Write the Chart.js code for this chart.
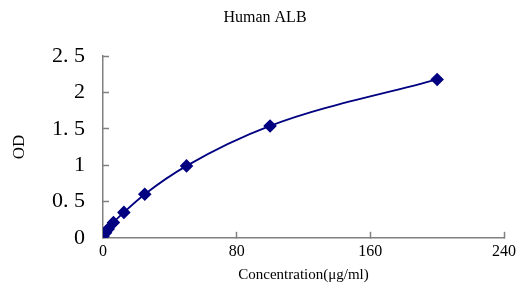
<!DOCTYPE html>
<html>
<head>
<meta charset="utf-8">
<script src="https://cdn.jsdelivr.net/npm/chart.js@4"></script>
<style>
  body { margin: 0; background: #fff; }
  #wrap { width: 519px; height: 288px; }
</style>
</head>
<body>
<div id="wrap"><canvas id="albChart"></canvas></div>
<script>
const concentrations = [0, 1.5625, 3.125, 6.25, 12.5, 25, 50, 100, 200];
const odValues = [0.02, 0.07, 0.12, 0.21, 0.35, 0.6, 0.99, 1.54, 2.18];
const xTicks = [0, 80, 160, 240];
const yTicks = [0, 0.5, 1, 1.5, 2, 2.5];

const serif = '"Liberation Serif", "DejaVu Serif", serif';

const ctx = document.getElementById('albChart').getContext('2d');
new Chart(ctx, {
    type: 'scatter',
    data: {
        datasets: [{
            label: 'Human ALB',
            data: concentrations.map((c, i) => ({ x: c, y: odValues[i] })),
            showLine: true,
            borderColor: '#000080',
            backgroundColor: '#000080',
            borderWidth: 1.8,
            pointStyle: 'rectRot',
            pointRadius: 5.5,
            pointHoverRadius: 5.5,
            cubicInterpolationMode: 'monotone'
        }]
    },
    options: {
        responsive: true,
        maintainAspectRatio: false,
        animation: false,
        layout: { padding: { left: 11, right: 0, top: 8, bottom: 4 } },
        scales: {
            x: {
                type: 'linear',
                min: 0,
                max: 240,
                afterBuildTicks: axis => { axis.ticks = xTicks.map(v => ({ value: v })); },
                // keep "240" close to the edge like the original
                afterFit: axis => { axis.paddingRight = 15; },
                grid: { drawOnChartArea: false, tickLength: -6, color: '#808080', tickWidth: 1.5 },
                border: { color: '#808080', width: 1.5 },
                ticks: { padding: 10, color: '#000', font: { family: serif, size: 16 } },
                title: {
                    display: true,
                    text: 'Concentration(μg/ml)',
                    color: '#000',
                    font: { family: serif, size: 15 },
                    padding: { top: -5, bottom: 0 }
                }
            },
            y: {
                min: 0,
                max: 2.5,
                afterBuildTicks: axis => { axis.ticks = yTicks.map(v => ({ value: v })); },
                grid: { drawOnChartArea: false, tickLength: -6, color: '#808080', tickWidth: 1.5 },
                border: { color: '#808080', width: 1.5 },
                ticks: {
                    padding: 24,
                    color: '#000',
                    font: { family: serif, size: 22 },
                    callback: v => String(v).replace('.', '. ')
                },
                title: {
                    display: true,
                    text: 'OD',
                    color: '#000',
                    font: { family: serif, size: 17, lineHeight: 1 },
                    padding: { top: 0, bottom: 0 }
                }
            }
        },
        plugins: {
            legend: { display: false },
            tooltip: { enabled: false },
            title: {
                display: true,
                text: 'Human ALB',
                color: '#000',
                font: { family: serif, size: 16, weight: 'normal' },
                padding: { top: 0, bottom: 29 }
            }
        }
    }
});
</script>
</body>
</html>
